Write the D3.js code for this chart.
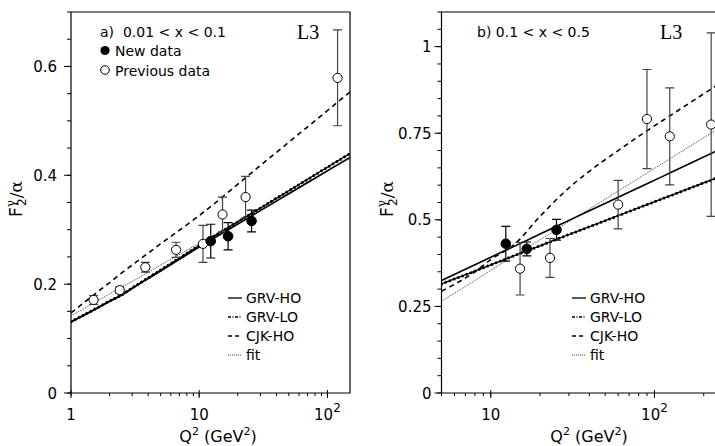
<!DOCTYPE html>
<html>
<head>
<meta charset="utf-8">
<script src="https://cdn.jsdelivr.net/npm/d3@7"></script>
<style>
  body { margin: 0; background: #fff; }
  text { font-family: "DejaVu Sans", "Liberation Sans", Arial, sans-serif; }
</style>
</head>
<body>
<div class="chart"></div>
<script>
// Panel a) 0.01 < x < 0.1
var q2NewA = [12.3, 16.8, 25.6],
  fNewA = [0.279, 0.288, 0.316],
  errNewA = [0.031, 0.025, 0.020];
var q2PrevA = [1.5, 2.4, 3.8, 6.6, 10.7, 15.2, 23.0, 120],
  fPrevA = [0.171, 0.189, 0.231, 0.263, 0.274, 0.328, 0.360, 0.579],
  errPrevA = [0.008, 0.006, 0.009, 0.014, 0.034, 0.032, 0.038, 0.088];
var q2CurveA = [1, 1.5, 2, 2.5, 3, 5, 10, 30, 60, 150],
  grvHoA = [0.130, 0.152, 0.168, 0.180, 0.192, 0.224, 0.268, 0.335, 0.377, 0.433],
  grvLoA = [0.131, 0.153, 0.169, 0.181, 0.193, 0.226, 0.271, 0.340, 0.383, 0.440],
  cjkHoA = [0.147, 0.180, 0.203, 0.221, 0.235, 0.274, 0.326, 0.418, 0.476, 0.553],
  fitA = [0.142, 0.165, 0.182, 0.195, 0.205, 0.235, 0.275, 0.338, 0.379, 0.431];

// Panel b) 0.1 < x < 0.5
var q2NewB = [12.35, 16.6, 25.2],
  fNewB = [0.431, 0.416, 0.471],
  errNewB = [0.050, 0.020, 0.030];
var q2PrevB = [15.1, 23.0, 60, 90, 124, 222],
  fPrevB = [0.359, 0.390, 0.544, 0.791, 0.741, 0.775],
  errPrevB = [0.076, 0.056, 0.070, 0.143, 0.140, 0.265];
var q2CurveB = [5, 8, 10, 14, 20, 28.7, 40, 60, 90, 124, 240],
  grvHoB = [0.325, 0.370, 0.392, 0.424, 0.459, 0.494, 0.526, 0.565, 0.604, 0.635, 0.699],
  grvLoB = [0.315, 0.352, 0.370, 0.397, 0.425, 0.454, 0.480, 0.512, 0.544, 0.569, 0.621],
  cjkHoB = [0.294, 0.350, 0.385, 0.430, 0.510, 0.584, 0.640, 0.700, 0.757, 0.800, 0.888],
  fitB = [0.265, 0.325, 0.354, 0.397, 0.442, 0.489, 0.531, 0.583, 0.635, 0.676, 0.760];

var legendNames = ["GRV-HO", "GRV-LO", "CJK-HO", "fit"];

var width = 715,
  height = 446;

var svg = d3.select(".chart").append("svg")
  .attr("width", width)
  .attr("height", height)
  .style("display", "block");

svg.append("rect").attr("width", width).attr("height", height).attr("fill", "#fff");

function zip(xs, ys) {
  return xs.map(function(x, i) { return [x, ys[i]]; });
}

function drawPanel(p) {
  var x = d3.scaleLog().domain(p.xDomain).range(p.xRange),
    y = d3.scaleLinear().domain(p.yDomain).range([393, 12]);
  var g = svg.append("g");

  var clipId = "clip" + p.id;
  svg.append("clipPath").attr("id", clipId)
    .append("rect")
    .attr("x", p.xRange[0]).attr("y", 12)
    .attr("width", p.xRange[1] - p.xRange[0]).attr("height", 381);

  // frame
  var x0 = p.xRange[0], x1 = p.xRange[1];
  g.append("path")
    .attr("d", "M" + x0 + ",393V12H" + x1 + "V393H" + x0)
    .attr("fill", "none").attr("stroke", "#000").attr("stroke-width", 1.2);

  // y ticks: minor every 0.05, labelled majors
  var yMinor = d3.range(0, p.yDomain[1] + 1e-9, 0.05);
  g.selectAll(".ymin").data(yMinor).enter().append("line")
    .attr("x1", x0 - 4).attr("x2", x0)
    .attr("y1", function(d) { return y(d); }).attr("y2", function(d) { return y(d); })
    .attr("stroke", "#000");
  g.selectAll(".ymaj").data(p.yLabels).enter().append("line")
    .attr("x1", x0 - 7).attr("x2", x0)
    .attr("y1", function(d) { return y(d); }).attr("y2", function(d) { return y(d); })
    .attr("stroke", "#000");
  g.selectAll(".ylab").data(p.yLabels).enter().append("text")
    .attr("x", x0 - p.yLabelGap)
    .attr("y", function(d) { return y(d) + 5.5; })
    .attr("text-anchor", "end")
    .style("font-size", p.tickFont + "px")
    .text(function(d) { return d3.format("")(d); });

  // x ticks (log)
  var xMinor = [];
  [1, 10, 100].forEach(function(dec) {
    for (var k = 1; k < 10; k++) {
      var v = dec * k;
      if (v >= p.xDomain[0] && v <= p.xDomain[1]) xMinor.push(v);
    }
  });
  g.selectAll(".xmin").data(xMinor).enter().append("line")
    .attr("x1", function(d) { return x(d); }).attr("x2", function(d) { return x(d); })
    .attr("y1", 393).attr("y2", 396)
    .attr("stroke", "#000");
  g.selectAll(".xmaj").data(p.xLabels).enter().append("line")
    .attr("x1", function(d) { return x(d); }).attr("x2", function(d) { return x(d); })
    .attr("y1", 390).attr("y2", 398)
    .attr("stroke", "#000");
  var xl = g.selectAll(".xlab").data(p.xLabels).enter().append("text")
    .attr("x", function(d) { return x(d); })
    .attr("y", 420)
    .attr("text-anchor", "middle")
    .style("font-size", p.tickFont + "px");
  xl.each(function(d) {
    var t = d3.select(this);
    if (d >= 100) {
      t.append("tspan").text("10");
      t.append("tspan").attr("dy", -8).style("font-size", (p.tickFont - 3) + "px").text("2");
    } else {
      t.text(d);
    }
  });

  // x title
  var xt = g.append("text")
    .attr("x", p.xTitleX).attr("y", 441.5)
    .attr("text-anchor", "middle")
    .style("font-size", "16px");
  xt.append("tspan").text("Q");
  xt.append("tspan").attr("dy", -7).style("font-size", "11px").text("2");
  xt.append("tspan").attr("dy", 7).text(" (GeV");
  xt.append("tspan").attr("dy", -7).style("font-size", "11px").text("2");
  xt.append("tspan").attr("dy", 7).text(")");

  // y title
  var yt = g.append("text")
    .attr("transform", "translate(" + p.yTitleX + ",199) rotate(-90)")
    .attr("text-anchor", "middle")
    .style("font-size", "17px");
  yt.append("tspan").text("F");
  yt.append("tspan").attr("dy", -7).style("font-size", "12px")
    .style("font-family", "'DejaVu Serif', serif").text("γ");
  yt.append("tspan").attr("dx", -6).attr("dy", 11).style("font-size", "12px").text("2");
  yt.append("tspan").attr("dy", -4).style("font-family", "'DejaVu Serif', serif").text("/α");

  // theory curves
  var line = d3.line()
    .x(function(d) { return x(d[0]); })
    .y(function(d) { return y(d[1]); })
    .curve(d3.curveMonotoneX);
  var cg = g.append("g").attr("clip-path", "url(#" + clipId + ")");
  cg.append("path").attr("d", line(zip(p.q2Curve, p.fit)))
    .attr("fill", "none").attr("stroke", "#444").attr("stroke-width", 1)
    .attr("stroke-dasharray", "1,1");
  cg.append("path").attr("d", line(zip(p.q2Curve, p.grvLo)))
    .attr("fill", "none").attr("stroke", "#000").attr("stroke-width", 1.3);
  cg.append("path").attr("d", line(zip(p.q2Curve, p.grvLo)))
    .attr("fill", "none").attr("stroke", "#000").attr("stroke-width", 3)
    .attr("stroke-linecap", "round").attr("stroke-dasharray", "0,4.5");
  cg.append("path").attr("d", line(zip(p.q2Curve, p.cjkHo)))
    .attr("fill", "none").attr("stroke", "#000").attr("stroke-width", 1.6)
    .attr("stroke-dasharray", "5,4");
  cg.append("path").attr("d", line(zip(p.q2Curve, p.grvHo)))
    .attr("fill", "none").attr("stroke", "#000").attr("stroke-width", 1.6);

  // data with error bars
  function points(q2, f, err, filled) {
    var pg = g.append("g");
    var d = q2.map(function(q, i) { return { q: q, f: f[i], e: err[i] }; });
    var col = filled ? "#000" : "#444";
    pg.selectAll(".eb").data(d).enter().append("path")
      .attr("d", function(d) {
        var cx = x(d.q), t = y(d.f + d.e), b = y(d.f - d.e);
        return "M" + (cx - 4.5) + "," + t + "H" + (cx + 4.5) +
          "M" + cx + "," + t + "V" + b +
          "M" + (cx - 4.5) + "," + b + "H" + (cx + 4.5);
      })
      .attr("fill", "none").attr("stroke", col).attr("stroke-width", 1.2);
    pg.selectAll("circle").data(d).enter().append("circle")
      .attr("cx", function(d) { return x(d.q); })
      .attr("cy", function(d) { return y(d.f); })
      .attr("r", filled ? 4.8 : 4.6)
      .attr("fill", filled ? "#000" : "#fff")
      .attr("stroke", "#000").attr("stroke-width", 1);
  }
  points(p.q2Prev, p.fPrev, p.errPrev, false);
  points(p.q2New, p.fNew, p.errNew, true);

  // header texts
  g.append("text").attr("x", p.titleX).attr("y", 37)
    .style("font-size", "14px").attr("xml:space", "preserve").text(p.title);
  g.append("text").attr("x", p.l3X).attr("y", 39)
    .style("font-family", "'Liberation Serif', 'Times New Roman', serif")
    .style("font-size", "20px").text("L3");

  // line legend
  var lg = g.append("g").attr("transform", "translate(" + p.legendX + ",298)");
  legendNames.forEach(function(name, i) {
    var ly = i * 19;
    var ln = lg.append("line").attr("x1", 0).attr("x2", 14).attr("y1", ly).attr("y2", ly)
      .attr("stroke", "#000").attr("stroke-width", 1.3);
    if (i === 1) ln.attr("stroke-dasharray", "3,1.5,1,1.5");
    if (i === 2) ln.attr("stroke-dasharray", "4,3");
    if (i === 3) ln.attr("stroke-dasharray", "1,1").attr("stroke", "#444").attr("stroke-width", 1);
    lg.append("text").attr("x", 18).attr("y", ly + 5)
      .style("font-size", "14px").text(name);
  });
}

drawPanel({
  id: "a",
  xDomain: [1, 150], xRange: [71, 350],
  yDomain: [0, 0.7], yLabels: [0, 0.2, 0.4, 0.6], yLabelGap: 14,
  xLabels: [1, 10, 100], tickFont: 15,
  xTitleX: 218, yTitleX: 22,
  q2Curve: q2CurveA, grvHo: grvHoA, grvLo: grvLoA, cjkHo: cjkHoA, fit: fitA,
  q2New: q2NewA, fNew: fNewA, errNew: errNewA,
  q2Prev: q2PrevA, fPrev: fPrevA, errPrev: errPrevA,
  title: "a)  0.01 < x < 0.1", titleX: 100, l3X: 297, legendX: 228
});

drawPanel({
  id: "b",
  xDomain: [5, 240], xRange: [441.5, 716.7],
  yDomain: [0, 1.1], yLabels: [0, 0.25, 0.5, 0.75, 1], yLabelGap: 10,
  xLabels: [10, 100], tickFont: 15,
  xTitleX: 589, yTitleX: 393,
  q2Curve: q2CurveB, grvHo: grvHoB, grvLo: grvLoB, cjkHo: cjkHoB, fit: fitB,
  q2New: q2NewB, fNew: fNewB, errNew: errNewB,
  q2Prev: q2PrevB, fPrev: fPrevB, errPrev: errPrevB,
  title: "b) 0.1 < x < 0.5", titleX: 477, l3X: 660, legendX: 572
});

// legend markers in panel a
svg.append("circle").attr("cx", 105).attr("cy", 50.5).attr("r", 4.6).attr("fill", "#000");
svg.append("text").attr("x", 115).attr("y", 56).style("font-size", "14px").text("New data");
svg.append("circle").attr("cx", 105).attr("cy", 70).attr("r", 4.3)
  .attr("fill", "#fff").attr("stroke", "#000");
svg.append("text").attr("x", 115).attr("y", 75.5).style("font-size", "14px").text("Previous data");
</script>
</body>
</html>
